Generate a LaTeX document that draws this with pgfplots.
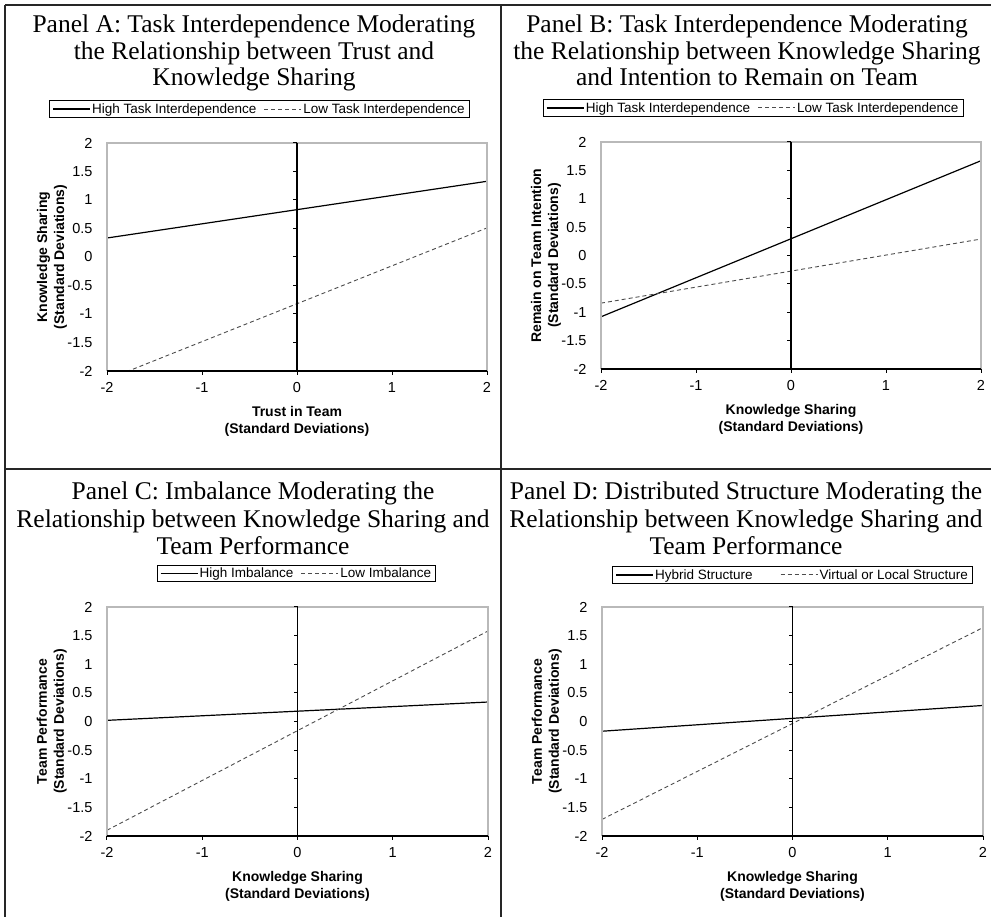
\documentclass[border=0pt]{standalone}
\usepackage{fontspec}
\setmainfont{Liberation Serif}
\setsansfont{Liberation Sans}
\usepackage{pgfplots}
\pgfplotsset{compat=1.18}

\pgfplotsset{
  panel/.style={
    scale only axis,
    xmin=-2,xmax=2,ymin=-2,ymax=2,
    clip mode=individual,
    axis line style={draw=none},
    xtick={-2,-1,0,1,2}, xticklabels={-2,-1,0,1,2},
    ytick={-2,-1.5,-1,-0.5,0,0.5,1,1.5,2},
    yticklabels={-2,-1.5,-1,-0.5,0,0.5,1,1.5,2},
    xtick pos=left, ytick pos=left,
    ytick style={draw=none},
    xtick style={draw=black, line width=1pt},
    tick align=outside, major tick length=4pt,
    tick label style={font=\fontsize{14.5}{16}\selectfont\sffamily},
    yticklabel style={xshift=-7pt},
    xticklabel style={yshift=-4pt},
    label style={font=\fontsize{14}{17}\selectfont\sffamily\bfseries, align=center},
    xlabel style={at={(axis description cs:0.5,-0.222)}, anchor=center},
    ylabel style={at={(axis description cs:-0.145,0.5)}, anchor=center},
    legend columns=2,
    legend image code/.code={\draw[##1] (0pt,0pt) -- (37pt,0pt);},
    legend style={draw=black, line width=0.8pt, font=\fontsize{13.5}{14.5}\selectfont\sffamily,
      inner xsep=3pt, inner ysep=1pt, nodes={inner sep=1.5pt}, anchor=center,
      /tikz/every even column/.append style={column sep=6pt}},
  },
  hi/.style={black, line width=1.2pt},
  lo/.style={black!70, line width=0.9pt, dash pattern=on 4pt off 3pt},
}

\newcommand{\panelframe}{%
  \draw[gray!55, line width=1.2pt] (rel axis cs:0,0) -- (rel axis cs:0,1) -- (rel axis cs:1,1) -- (rel axis cs:1,0);
  \draw[black, line width=1.3pt] (rel axis cs:0,0) -- (rel axis cs:1,0);
  \draw[black, line width=1.2pt] (axis cs:0,-2) -- (axis cs:0,2);
  \pgfplotsinvokeforeach{-2,-1.5,-1,-0.5,0,0.5,1,1.5,2}{\draw[black,line width=1pt] (axis cs:0,##1) -- ++(-4pt,0pt);}
}

\begin{document}
\begin{tikzpicture}
\useasboundingbox (0pt,0pt) rectangle (991pt,917pt);
% outer frame
\draw[black!85, line width=1.6pt] (5pt,912pt) -- (991pt,912pt);
\draw[black!85, line width=1.6pt] (5pt,912pt) -- (5pt,0pt);
\draw[black!85, line width=1.6pt] (501pt,912pt) -- (501pt,0pt);
\draw[black!85, line width=1.6pt] (5pt,448pt) -- (991pt,448pt);

% titles
\begin{scope}[every node/.style={font=\fontsize{25.5}{27}\selectfont\rmfamily, anchor=base, inner sep=0pt}]
\node at (254pt,884.5pt) {Panel A: Task Interdependence Moderating};
\node at (254pt,857.7pt) {the Relationship between Trust and};
\node at (254pt,831pt) {Knowledge Sharing};
\node at (747pt,884.5pt) {Panel B: Task Interdependence Moderating};
\node at (747pt,857.7pt) {the Relationship between Knowledge Sharing};
\node at (747pt,831pt) {and Intention to Remain on Team};
\node at (253pt,417pt) {Panel C: Imbalance Moderating the};
\node at (253pt,389.7pt) {Relationship between Knowledge Sharing and};
\node at (253pt,362.7pt) {Team Performance};
\node at (746pt,417pt) {Panel D: Distributed Structure Moderating the};
\node at (746pt,389.7pt) {Relationship between Knowledge Sharing and};
\node at (746pt,362.7pt) {Team Performance};
\end{scope}

% Panel A
\begin{axis}[panel, at={(107pt,546pt)}, anchor=south west, width=380pt, height=228pt,
  xlabel={Trust in Team\\(Standard Deviations)},
  ylabel={Knowledge Sharing\\(Standard Deviations)},
  legend style={at={(0.401,1.149)}}]
\addplot[hi] coordinates {(-2,0.333) (2,1.328)};
\addlegendentry{High Task Interdependence}
\addplot[lo] coordinates {(-2,-2.15) (2,0.51)};
\addlegendentry{Low Task Interdependence}
\panelframe
\end{axis}

% Panel B
\begin{axis}[panel, at={(601pt,548pt)}, anchor=south west, width=380pt, height=227pt,
  xlabel={Knowledge Sharing\\(Standard Deviations)},
  ylabel={Remain on Team Intention\\(Standard Deviations)},
  legend style={at={(0.40,1.15)}}]
\addplot[hi] coordinates {(-2,-1.08) (2,1.67)};
\addlegendentry{High Task Interdependence}
\addplot[lo] coordinates {(-2,-0.84) (2,0.29)};
\addlegendentry{Low Task Interdependence}
\panelframe
\end{axis}

% Panel C
\begin{axis}[panel, at={(107pt,81pt)}, anchor=south west, width=381pt, height=229pt,
  xlabel={Knowledge Sharing\\(Standard Deviations)},
  ylabel={Team Performance\\(Standard Deviations)},
  legend style={at={(0.497,1.148)}}]
\addplot[hi] coordinates {(-2,0.02) (2,0.34)};
\addlegendentry{High Imbalance}
\addplot[lo] coordinates {(-2,-1.90) (2,1.58)};
\addlegendentry{Low Imbalance}
\panelframe
\end{axis}

% Panel D
\begin{axis}[panel, at={(602pt,81pt)}, anchor=south west, width=381pt, height=229pt,
  xlabel={Knowledge Sharing\\(Standard Deviations)},
  ylabel={Team Performance\\(Standard Deviations)},
  legend style={at={(0.50,1.14)}, /tikz/every even column/.append style={column sep=26pt}}]
\addplot[hi] coordinates {(-2,-0.17) (2,0.28)};
\addlegendentry{Hybrid Structure}
\addplot[lo] coordinates {(-2,-1.71) (2,1.64)};
\addlegendentry{Virtual or Local Structure}
\panelframe
\end{axis}
\end{tikzpicture}
\end{document}
